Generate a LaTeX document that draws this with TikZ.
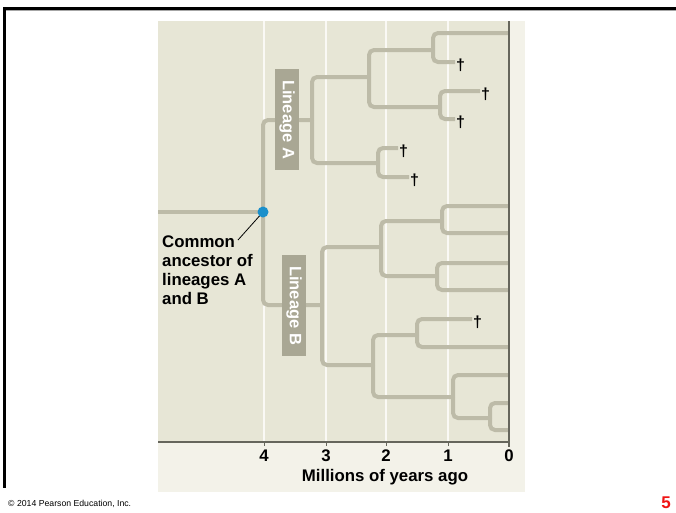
\documentclass[tikz,border=0pt]{standalone}
\usepackage{fontspec}
\setmainfont{Liberation Sans}
\usepackage{tikz}
\usetikzlibrary{positioning}

\definecolor{beige}{HTML}{E7E6D6}
\definecolor{crema}{HTML}{F3F2E9}
\definecolor{grisrama}{HTML}{BDBBA8}
\definecolor{griscaja}{HTML}{A9A794}
\definecolor{grisosc}{HTML}{66665C}
\definecolor{azul}{HTML}{1A8FCB}
\definecolor{rojo}{HTML}{F01414}

\tikzset{
  rama/.style={draw=grisrama, line width=4pt, rounded corners=5pt},
  linaje/.style={fill=griscaja, text=white, rotate=-90, inner sep=0pt,
    minimum width=101pt, minimum height=24pt,
    font=\fontsize{16.5}{19}\selectfont\bfseries},
  extinto/.style={anchor=west, inner sep=1pt, yshift=-3pt,
    font=\fontsize{16}{16}\selectfont\bfseries},
  rotulo/.style={inner sep=0pt, font=\fontsize{16.8}{19}\selectfont\bfseries},
  rejilla/.style={draw=white!55!crema, line width=1.5pt},
}

\begin{document}
\begin{tikzpicture}[x=1pt,y=-1pt]
    \useasboundingbox (0,0) rectangle (676,512);
    % Marco
    \fill[white] (0,0) rectangle (676,512);
    \draw[gray!70, line width=1pt] (6,10.5) -- (676,10.5);
    \draw[line width=3pt] (3,8.5) -- (676,8.5);
    \draw[line width=3pt] (4.5,7) -- (4.5,488);
    % Fondo
    \fill[crema] (158,21) rectangle (525,492);
    \fill[beige] (158,21) rectangle (509,442);
    % Rejilla
    \draw[rejilla] (264,21) -- (264,442);
    \draw[rejilla] (326,21) -- (326,442);
    \draw[rejilla] (386,21) -- (386,442);
    \draw[rejilla] (448,21) -- (448,442);

    % Nodos del arbol
    \coordinate (raiz) at (158,212);
    \coordinate (anc) at (263,212);
    \coordinate (a) at (312,120);
    \coordinate (a1) at (369,77);
    \coordinate (a11) at (433,50);
    \coordinate (a111) at (509,33);
    \coordinate (a112) at (455,62);
    \coordinate (a12) at (440,107);
    \coordinate (a121) at (480,91);
    \coordinate (a122) at (455,119);
    \coordinate (a2) at (378,163);
    \coordinate (a21) at (398,148);
    \coordinate (a22) at (409,177);
    \coordinate (b) at (322,305);
    \coordinate (b1) at (381,247);
    \coordinate (b11) at (442,221);
    \coordinate (b111) at (509,206);
    \coordinate (b112) at (509,233);
    \coordinate (b12) at (437,276);
    \coordinate (b121) at (509,263);
    \coordinate (b122) at (509,290);
    \coordinate (b2) at (373,365);
    \coordinate (b21) at (417,335);
    \coordinate (b211) at (472,319);
    \coordinate (b212) at (509,347);
    \coordinate (b22) at (453,397);
    \coordinate (b221) at (509,375);
    \coordinate (b222) at (490,418);
    \coordinate (b2221) at (509,403);
    \coordinate (b2222) at (509,430);

    % Ramas
    \draw[rama] (raiz) -- (anc);
    \draw[rama] (anc) |- (a);
    \draw[rama] (anc) |- (b);
    \draw[rama] (a) |- (a1);
    \draw[rama] (a) |- (a2);
    \draw[rama] (a1) |- (a11);
    \draw[rama] (a1) |- (a12);
    \draw[rama] (a11) |- (a111);
    \draw[rama] (a11) |- (a112);
    \draw[rama] (a12) |- (a121);
    \draw[rama] (a12) |- (a122);
    \draw[rama] (a2) |- (a21);
    \draw[rama] (a2) |- (a22);
    \draw[rama] (b) |- (b1);
    \draw[rama] (b) |- (b2);
    \draw[rama] (b1) |- (b11);
    \draw[rama] (b1) |- (b12);
    \draw[rama] (b11) |- (b111);
    \draw[rama] (b11) |- (b112);
    \draw[rama] (b12) |- (b121);
    \draw[rama] (b12) |- (b122);
    \draw[rama] (b2) |- (b21);
    \draw[rama] (b2) |- (b22);
    \draw[rama] (b21) |- (b211);
    \draw[rama] (b21) |- (b212);
    \draw[rama] (b22) |- (b221);
    \draw[rama] (b22) |- (b222);
    \draw[rama] (b222) |- (b2221);
    \draw[rama] (b222) |- (b2222);

    % Extinciones
    \node[extinto] (d1) at (a112) {†};
    \node[extinto] (d2) at (a121) {†};
    \node[extinto] (d3) at (a122) {†};
    \node[extinto] (d4) at (a21) {†};
    \node[extinto] (d5) at (a22) {†};
    \node[extinto] (d6) at (b211) {†};

    % Linajes
    \node[linaje] (linA) at (287,119.5) {Lineage A};
    \node[linaje] (linB) at (294,305.5) {Lineage B};

    % Ancestro comun
    \coordinate (guia) at (238,240);
    \draw[line width=0.8pt] (anc) -- (guia);
    \fill[azul] (anc) circle (5.5pt);
    \node[rotulo, align=left, anchor=north west] (comun) at (162,236)
        {Common\\ancestor of\\lineages A\\and B};

    % Eje
    \draw[grisosc, line width=1.2pt] (158,442) -- (509,442);
    \draw[grisosc, line width=1.5pt] (509,21) -- (509,447);
    \draw[grisosc, line width=1pt] (264,442) -- (264,446);
    \draw[grisosc, line width=1pt] (326,442) -- (326,446);
    \draw[grisosc, line width=1pt] (386,442) -- (386,446);
    \draw[grisosc, line width=1pt] (448,442) -- (448,446);
    \node[rotulo, anchor=base] (t4) at (264,461) {4};
    \node[rotulo, anchor=base] (t3) at (326,461) {3};
    \node[rotulo, anchor=base] (t2) at (386,461) {2};
    \node[rotulo, anchor=base] (t1) at (448,461) {1};
    \node[rotulo, anchor=base] (t0) at (509,461) {0};
    \node[rotulo, anchor=base] (titulo) at (385,481) {Millions of years ago};

    % Pie
    \node[anchor=base west, inner sep=0pt, font=\fontsize{8.7}{10}\selectfont] (pie) at (8,506)
        {© 2014 Pearson Education, Inc.};
    \node[anchor=base east, inner sep=0pt, text=rojo, font=\fontsize{17}{20}\selectfont\bfseries] (pag) at (671,508) {5};
\end{tikzpicture}
\end{document}
